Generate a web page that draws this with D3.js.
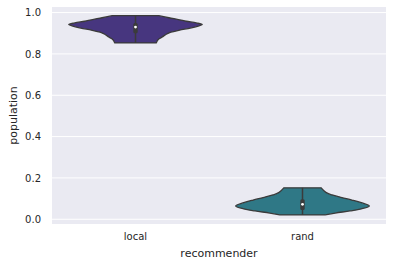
<!DOCTYPE html>
<html><head><meta charset="utf-8">
<script src="https://cdn.jsdelivr.net/npm/d3@7"></script>
<style>body{margin:0;background:#fff}svg{display:block}text{font-family:"DejaVu Sans",sans-serif;fill:#262626}</style>
</head><body><svg id="c" width="393" height="268"></svg>
<script>
const categories = ["local", "rand"];
const colors = ["#47367f", "#2f7886"];
const yTicks = [0.0, 0.2, 0.4, 0.6, 0.8, 1.0];
const localValues = [0.853,0.87,0.882,0.895,0.905,0.915,0.925,0.935,0.942,0.95,0.958,0.965,0.975,0.985];
const localDensity = [0.31,0.34,0.40,0.46,0.53,0.66,0.82,0.94,1.0,0.91,0.76,0.66,0.50,0.35];
const randValues = [0.021,0.03,0.04,0.05,0.064,0.08,0.093,0.105,0.118,0.13,0.152];
const randDensity = [0.34,0.49,0.71,0.88,1.0,0.88,0.74,0.59,0.44,0.35,0.28];
// min, q1, median, q3, max
const localStats = [0.853, 0.90, 0.93, 0.95, 0.985];
const randStats = [0.021, 0.045, 0.072, 0.097, 0.152];

const profiles = [
  {cat: "local", values: localValues, dens: localDensity, stats: localStats},
  {cat: "rand", values: randValues, dens: randDensity, stats: randStats}
];

const W = 393, H = 268, m = {l: 52, r: 7, t: 7, b: 44};
const svg = d3.select("#c");
const x = d3.scaleBand().domain(categories).range([m.l, W - m.r]);
const y = d3.scaleLinear().domain([-0.023, 1.027]).range([H - m.b, m.t]);
const wScale = d3.scaleLinear().domain([0, 1]).range([0, x.bandwidth() * 0.4]);

svg.append("rect").attr("x", m.l).attr("y", m.t).attr("width", W - m.l - m.r).attr("height", H - m.t - m.b).attr("fill", "#eaeaf2");

svg.append("g").selectAll("line").data(yTicks).join("line")
  .attr("x1", m.l).attr("x2", W - m.r)
  .attr("y1", d => y(d)).attr("y2", d => y(d))
  .attr("stroke", "#fff").attr("stroke-width", 1);

const yAxis = svg.append("g").attr("transform", `translate(${m.l},0)`)
  .call(d3.axisLeft(y).tickValues(yTicks).tickFormat(d3.format(".1f")).tickSize(0).tickPadding(11));
yAxis.select(".domain").remove();
yAxis.selectAll("text").style("font-size", "10px").style("fill", "#262626").attr("font-family", "DejaVu Sans");

const xAxis = svg.append("g").attr("transform", `translate(0,${H - m.b})`)
  .call(d3.axisBottom(x).tickSize(0).tickPadding(9));
xAxis.select(".domain").remove();
xAxis.selectAll("text").style("font-size", "10px").style("fill", "#262626").attr("font-family", "DejaVu Sans");

profiles.forEach((p, i) => {
  const cx = x(p.cat) + x.bandwidth() / 2;
  const pts = p.values.map((v, j) => [v, p.dens[j]]);
  const area = d3.area()
    .y(d => y(d[0]))
    .x0(d => cx - wScale(d[1]))
    .x1(d => cx + wScale(d[1]))
    .curve(d3.curveCatmullRom);
  svg.append("path").attr("d", area(pts))
    .attr("fill", colors[i]).attr("stroke", "#3b3b3b").attr("stroke-width", 1.3);
  const s = p.stats;
  svg.append("line").attr("x1", cx).attr("x2", cx).attr("y1", y(s[0])).attr("y2", y(s[4]))
    .attr("stroke", "#3b3b3b").attr("stroke-width", 1.5);
  svg.append("rect").attr("x", cx - 2.2).attr("width", 4.4)
    .attr("y", y(s[3])).attr("height", y(s[1]) - y(s[3]))
    .attr("rx", 1.5).attr("fill", "#3b3b3b");
  svg.append("circle").attr("cx", cx).attr("cy", y(s[2])).attr("r", 1.4).attr("fill", "#fff");
});

svg.append("text").attr("x", (m.l + W - m.r) / 2).attr("y", 257)
  .attr("text-anchor", "middle").style("font-size", "11px").text("recommender");
svg.append("text").attr("transform", `translate(17,${(m.t + H - m.b) / 2}) rotate(-90)`)
  .attr("text-anchor", "middle").style("font-size", "11px").text("population");
</script></body></html>
